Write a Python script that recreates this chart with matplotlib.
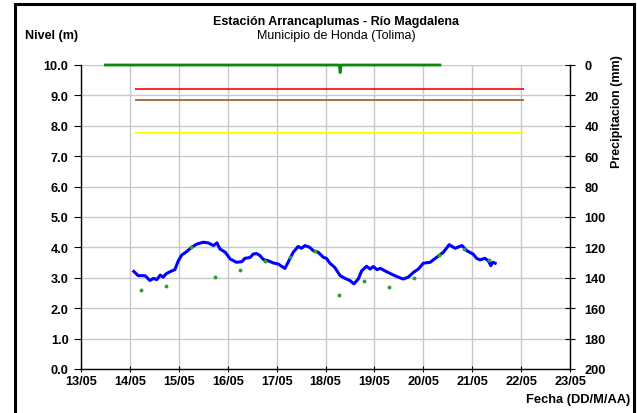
import matplotlib
matplotlib.use("Agg")
import matplotlib.pyplot as plt
from matplotlib.patches import Rectangle

plt.rcParams['font.family'] = ['Liberation Sans', 'DejaVu Sans']

# X values are days of May (13 = 13/05)
level_day = [14.08, 14.17, 14.31, 14.38, 14.41, 14.48, 14.55, 14.62, 14.68, 14.74,
             14.82, 14.92, 14.99, 15.06, 15.16, 15.26, 15.37, 15.50, 15.60, 15.71,
             15.78, 15.84, 15.95, 16.05, 16.12, 16.18, 16.29, 16.35, 16.46, 16.52,
             16.59, 16.66, 16.73, 16.83, 16.93, 17.04, 17.10, 17.17, 17.27, 17.34,
             17.44, 17.51, 17.58, 17.68, 17.75, 17.85, 17.96, 18.02, 18.09, 18.19,
             18.30, 18.40, 18.50, 18.58, 18.67, 18.74, 18.84, 18.91, 18.98, 19.05,
             19.12, 19.25, 19.39, 19.49, 19.59, 19.69, 19.80, 19.90, 20.00, 20.14,
             20.27, 20.41, 20.53, 20.65, 20.79, 20.89, 21.02, 21.09, 21.16, 21.26,
             21.33, 21.38, 21.42, 21.47]
level_val = [3.21, 3.07, 3.07, 2.96, 2.91, 2.98, 2.94, 3.09, 3.02, 3.13,
             3.20, 3.27, 3.56, 3.75, 3.86, 4.00, 4.11, 4.17, 4.15, 4.06,
             4.15, 3.95, 3.84, 3.62, 3.56, 3.51, 3.53, 3.64, 3.67, 3.78,
             3.80, 3.73, 3.60, 3.56, 3.49, 3.45, 3.38, 3.31, 3.62, 3.84,
             4.03, 3.97, 4.06, 4.00, 3.89, 3.84, 3.67, 3.64, 3.48, 3.34,
             3.07, 2.98, 2.91, 2.80, 2.96, 3.23, 3.38, 3.29, 3.37, 3.27,
             3.31, 3.20, 3.09, 3.02, 2.96, 3.02, 3.18, 3.29, 3.48, 3.51,
             3.67, 3.84, 4.09, 3.97, 4.06, 3.89, 3.78, 3.64, 3.59, 3.64,
             3.56, 3.40, 3.51, 3.48]

manual_day = [14.23, 14.74, 15.25, 15.75, 16.26, 16.77, 17.27, 17.78, 18.28,
              18.79, 19.30, 19.81, 20.32, 20.83, 21.34]
manual_val = [2.61, 2.74, 4.00, 3.03, 3.26, 3.56, 3.70, 3.88, 2.44,
              2.88, 2.71, 2.99, 3.75, 3.94, 3.59]

rain_day = [13.50, 18.28, 18.30, 18.32, 20.34]
rain_mm = [0, 0, 5, 0, 0]

threshold_day = [14.10, 22.05]
red_level = 9.2
brown_level = 8.85
yellow_level = 7.75

tick_days = list(range(13, 24))
tick_labels = ["13/05", "14/05", "15/05", "16/05", "17/05", "18/05",
               "19/05", "20/05", "21/05", "22/05", "23/05"]

fig = plt.figure(figsize=(6.37, 4.14), dpi=100)
ax = fig.add_axes([81/637, 1-370/414, (570-81)/637, (370-66)/414])

# figure border
fig.patches.append(Rectangle((15/637, -0.1), (634-15)/637, 1.1 - 5/414,
                             transform=fig.transFigure, fill=False,
                             edgecolor='black', linewidth=2.2))

TS = 9.2
ax.set_xlim(13, 23)
ax.set_ylim(0, 10)
ax.set_xticks(tick_days)
ax.set_xticklabels(tick_labels)
ax.set_yticks(range(0, 11))
ax.set_yticklabels([f"{v:.1f}" for v in range(0, 11)])
ax.grid(True, color='#c8c8c8', linewidth=1.0)
ax.set_axisbelow(True)
for s in ['left', 'bottom']:
    ax.spines[s].set_color('black')
    ax.spines[s].set_linewidth(1.0)
ax.spines['top'].set_visible(False)
ax.spines['right'].set_visible(False)
ax.tick_params(axis='y', direction='out', length=5, labelsize=TS, pad=4)
ax.tick_params(axis='x', direction='inout', length=5, labelsize=TS, pad=2)
for lab in ax.get_xticklabels() + ax.get_yticklabels():
    lab.set_fontweight('bold')

ax.hlines(red_level, threshold_day[0], threshold_day[1], color='#ff0000', lw=1.2, zorder=3)
ax.hlines(brown_level, threshold_day[0], threshold_day[1], color='#9c5a28', lw=1.2, zorder=3)
ax.hlines(yellow_level, threshold_day[0], threshold_day[1], color='#ffff00', lw=1.5, zorder=3)

ax.plot(level_day, level_val, color='#0000ff', lw=2.2, zorder=4)
ax.plot(manual_day, manual_val, 'o', color='#2e9e2e', ms=2.8, zorder=5, markeredgewidth=0)

ax2 = ax.twinx()
ax2.set_ylim(200, 0)
ax2.set_yticks(range(0, 201, 20))
ax2.tick_params(axis='y', direction='inout', length=7, labelsize=TS, pad=7)
for lab in ax2.get_yticklabels():
    lab.set_fontweight('bold')
for s in ['left', 'bottom', 'top']:
    ax2.spines[s].set_visible(False)
ax2.spines['right'].set_color('black')
ax2.spines['right'].set_linewidth(1.0)
ax2.plot(rain_day, rain_mm, color='#0a8a0a', lw=2.0, clip_on=False, zorder=6)

fig.text(336/637, 1-22.5/414, "Estación Arrancaplumas - Río Magdalena", ha='center',
         va='center', fontsize=9, fontweight='bold')
fig.text(336/637, 1-36/414, "Municipio de Honda (Tolima)", ha='center',
         va='center', fontsize=9)
fig.text(25/637, 1-36/414, "Nivel (m)", ha='left', va='center', fontsize=9, fontweight='bold')
fig.text(617/637, 1-112/414, "Precipitacion (mm)", ha='center', va='center',
         rotation=90, fontsize=9, fontweight='bold')
fig.text(630/637, 1-400/414, "Fecha (DD/M/AA)", ha='right', va='center',
         fontsize=9.3, fontweight='bold')

fig.savefig("out.png", dpi=100)
